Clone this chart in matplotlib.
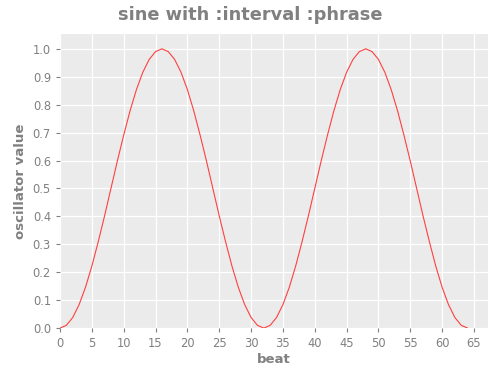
import matplotlib.pyplot as plt

# oscillator samples, one per beat
beats = list(range(0, 65))
half = [0.0, 0.010, 0.038, 0.084, 0.146, 0.222, 0.309, 0.402, 0.5, 0.598, 0.691,
        0.778, 0.854, 0.916, 0.962, 0.990, 1.0, 0.990, 0.962, 0.916, 0.854, 0.778,
        0.691, 0.598, 0.5, 0.402, 0.309, 0.222, 0.146, 0.084, 0.038, 0.010]
values = half + half + [0.0]

xticks = list(range(0, 70, 5))
yticks = [i / 10 for i in range(0, 11)]

grey = '#808080'
fig = plt.figure(figsize=(5, 3.78), dpi=100)
ax = fig.add_axes([0.12, 0.132, 0.856, 0.778])
ax.set_facecolor('#ebebeb')

ax.plot(beats, values, color='#ff4040', lw=0.8)

ax.set_xlim(0, 67.2)
ax.set_ylim(0, 1.053)
ax.set_xticks(xticks)
ax.set_yticks(yticks)
ax.set_yticklabels(['%.1f' % v for v in yticks])
ax.grid(color='white', lw=0.9)
ax.set_axisbelow(True)
for s in ax.spines.values():
    s.set_visible(False)
ax.tick_params(colors=grey, labelsize=8.3, length=3, width=0.8, labelcolor=grey)

ax.set_xlabel('beat', color=grey, fontsize=9.5, fontweight='bold', labelpad=2)
ax.set_ylabel('oscillator value', color=grey, fontsize=9.5, fontweight='bold', labelpad=4)
fig.suptitle('sine with :interval :phrase', color=grey, fontsize=12.8,
             fontweight='bold', y=0.985)

fig.savefig('out.png', dpi=100)
